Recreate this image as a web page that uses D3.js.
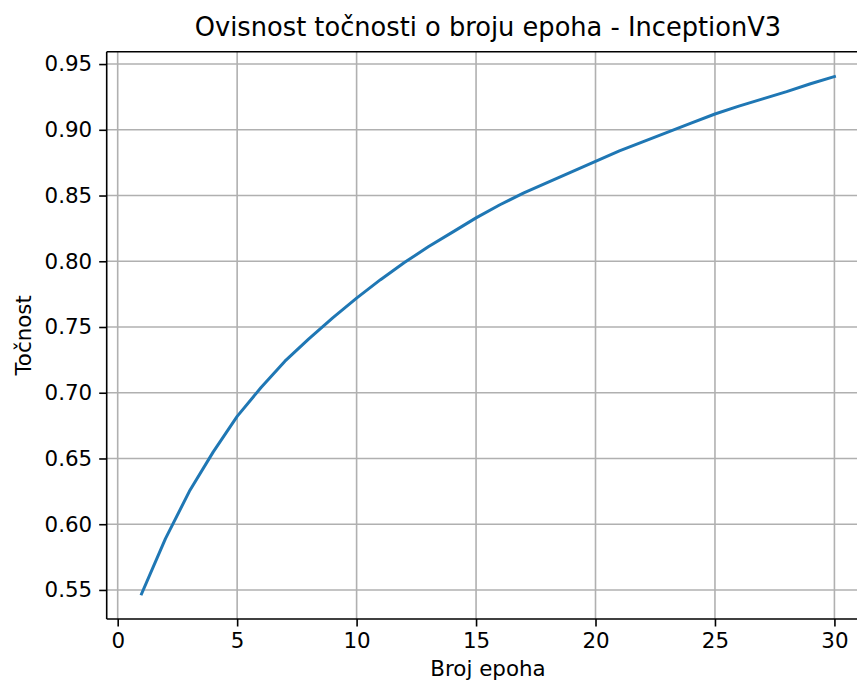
<!DOCTYPE html>
<html>
<head>
<meta charset="utf-8">
<script src="https://cdn.jsdelivr.net/npm/d3@7"></script>
<style>
  body { margin: 0; background: #fff; }
  text { font-family: "DejaVu Sans", sans-serif; fill: #000; }
</style>
</head>
<body>
<div id="main-container"></div>
<script>
var width = 857,
    height = 684

var epochs = d3.range(1, 31)
var accuracy = [0.547, 0.589, 0.625, 0.655, 0.682, 0.704, 0.724, 0.741, 0.757, 0.772,
                0.786, 0.799, 0.811, 0.822, 0.833, 0.843, 0.852, 0.860, 0.868, 0.876,
                0.884, 0.891, 0.898, 0.905, 0.912, 0.918, 0.9235, 0.929, 0.935, 0.9405]
var xTicks = [0, 5, 10, 15, 20, 25, 30]
var yTicks = [0.55, 0.60, 0.65, 0.70, 0.75, 0.80, 0.85, 0.90, 0.95]

var titleText = "Ovisnost točnosti o broju epoha - InceptionV3"
var xLabel = "Broj epoha"
var yLabel = "Točnost"

var plot = { left: 106.7, top: 51.7, right: 869.3, bottom: 619 }
var tickFont = "21.4px",
    titleFont = "25.7px"

var svg = d3.select("#main-container").append("svg")
  .attr("width", width)
  .attr("height", height)

var x = d3.scaleLinear()
  .domain([-0.46, 31.46])
  .range([plot.left, plot.right])

var y = d3.scaleLinear()
  .domain([0.5279, 0.9594])
  .range([plot.bottom, plot.top])

// grid
var grid = svg.append("g").attr("class", "grid")
grid.selectAll(".vgrid")
  .data(xTicks)
  .enter()
  .append("line")
    .attr("x1", function(d){ return x(d) })
    .attr("x2", function(d){ return x(d) })
    .attr("y1", plot.top)
    .attr("y2", plot.bottom)
    .attr("stroke", "#b0b0b0")
    .attr("stroke-width", 1.6)
grid.selectAll(".hgrid")
  .data(yTicks)
  .enter()
  .append("line")
    .attr("x1", plot.left)
    .attr("x2", plot.right)
    .attr("y1", function(d){ return y(d) })
    .attr("y2", function(d){ return y(d) })
    .attr("stroke", "#b0b0b0")
    .attr("stroke-width", 1.6)

// axes
svg.append("g")
  .attr("transform", "translate(0," + plot.bottom + ")")
  .call(d3.axisBottom(x).tickValues(xTicks).tickSize(7.5).tickPadding(6).tickFormat(d3.format("d")))
svg.append("g")
  .attr("transform", "translate(" + plot.left + ",0)")
  .call(d3.axisLeft(y).tickValues(yTicks).tickSize(7.5).tickPadding(7).tickFormat(d3.format(".2f")))

svg.selectAll(".domain").remove()
svg.selectAll(".tick line").attr("stroke", "#000").attr("stroke-width", 1.6)
svg.selectAll(".tick text")
  .style("font-family", "DejaVu Sans")
  .style("font-size", tickFont)
  .attr("fill", "#000")

// spines
svg.append("line")
  .attr("x1", plot.left).attr("x2", plot.left)
  .attr("y1", plot.top).attr("y2", plot.bottom)
  .attr("stroke", "#000").attr("stroke-width", 1.6)
svg.append("line")
  .attr("x1", plot.left).attr("x2", plot.right)
  .attr("y1", plot.bottom).attr("y2", plot.bottom)
  .attr("stroke", "#000").attr("stroke-width", 1.6)
svg.append("line")
  .attr("x1", plot.left).attr("x2", plot.right)
  .attr("y1", plot.top).attr("y2", plot.top)
  .attr("stroke", "#000").attr("stroke-width", 1.6)

var line = d3.line()
  .x(function(d, i){ return x(epochs[i]) })
  .y(function(d){ return y(d) })

svg.append("path")
  .datum(accuracy)
  .attr("d", line)
  .attr("fill", "none")
  .attr("stroke", "#1f77b4")
  .attr("stroke-width", 3)
  .attr("stroke-linecap", "square")
  .attr("stroke-linejoin", "round")

svg.append("text")
  .attr("x", (plot.left + plot.right) / 2)
  .attr("y", 36)
  .attr("text-anchor", "middle")
  .style("font-size", titleFont)
  .text(titleText)

svg.append("text")
  .attr("x", (plot.left + plot.right) / 2)
  .attr("y", 676)
  .attr("text-anchor", "middle")
  .style("font-size", tickFont)
  .text(xLabel)

svg.append("text")
  .attr("transform", "translate(31," + ((plot.top + plot.bottom) / 2) + ") rotate(-90)")
  .attr("text-anchor", "middle")
  .style("font-size", tickFont)
  .text(yLabel)
</script>
</body>
</html>
